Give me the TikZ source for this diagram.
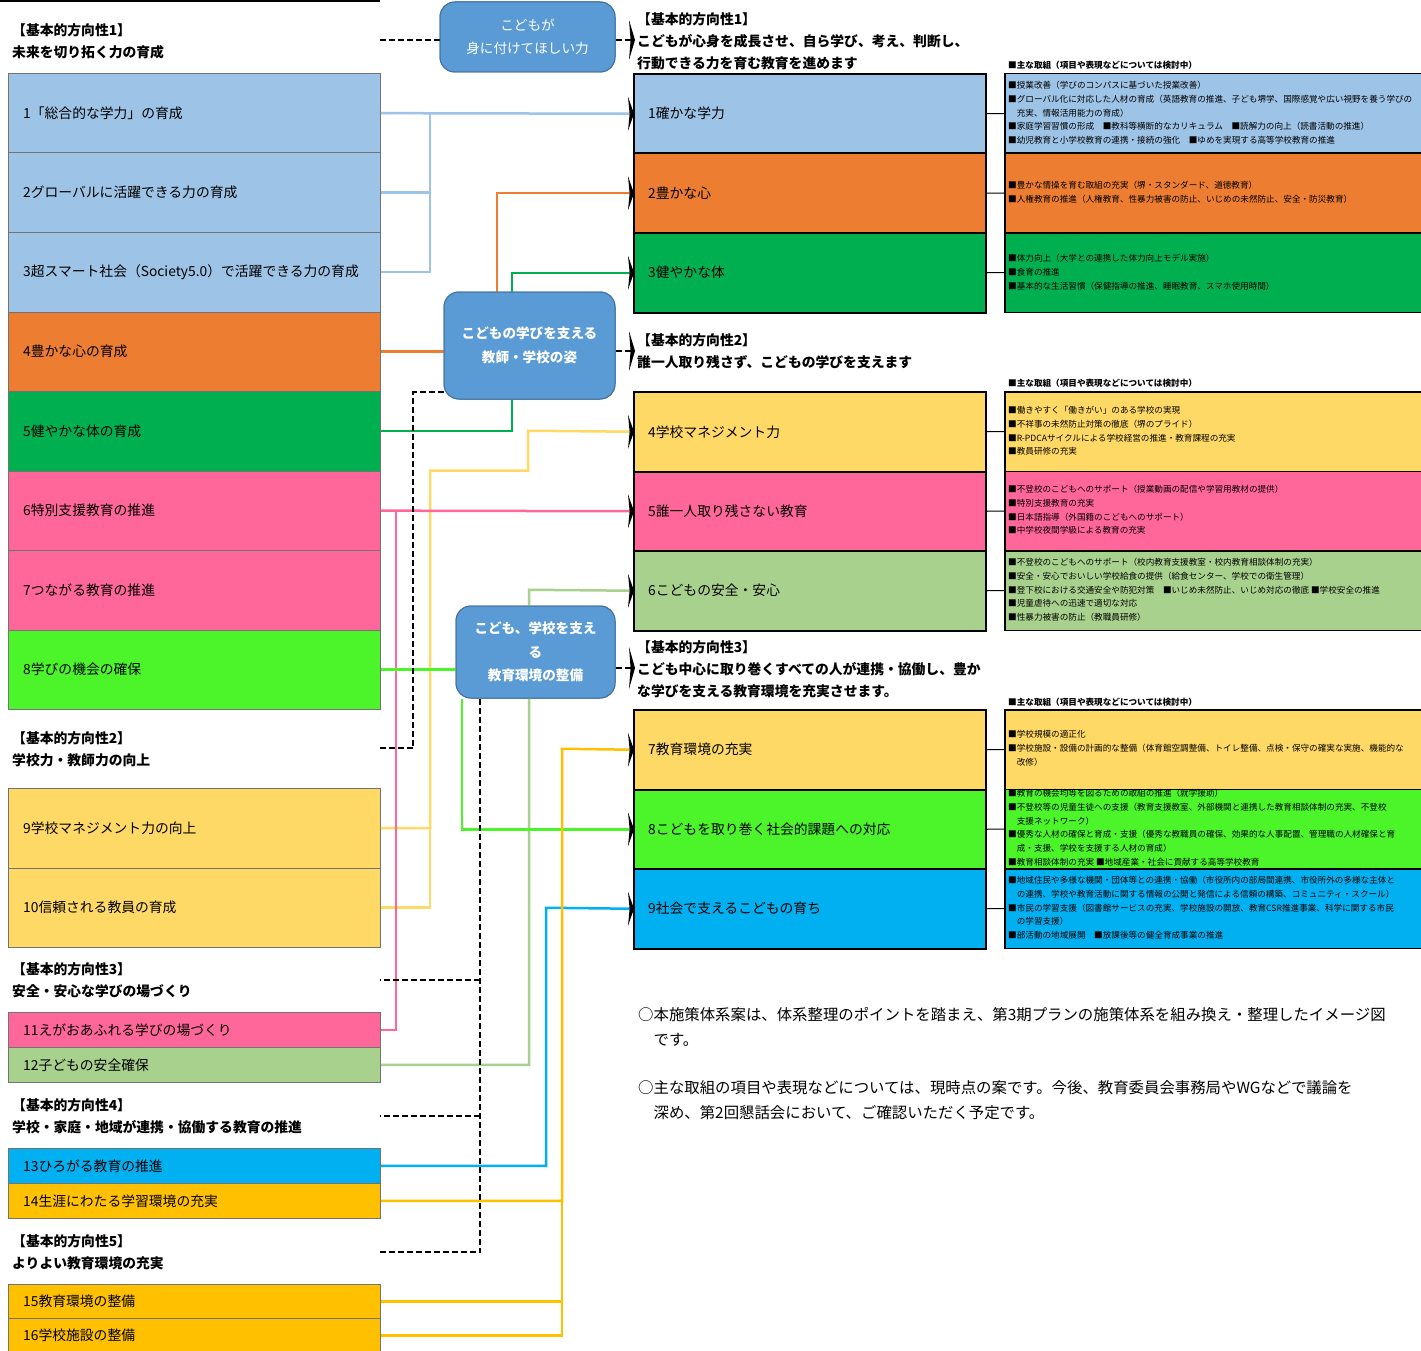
\documentclass[tikz,border=0pt]{standalone}
\usepackage{fontspec}
\setmainfont{Noto Sans CJK JP}
\usetikzlibrary{calc}
\definecolor{clb}{HTML}{9DC3E6}
\definecolor{cor}{HTML}{ED7D31}
\definecolor{cgr}{HTML}{00B050}
\definecolor{cpk}{HTML}{FF6699}
\definecolor{cbg}{HTML}{4BF52A}
\definecolor{cye}{HTML}{FFD966}
\definecolor{clg}{HTML}{A9D18E}
\definecolor{ccy}{HTML}{00B0F0}
\definecolor{cgd}{HTML}{FFC000}
\definecolor{cmb}{HTML}{5B9BD5}
\definecolor{cmbd}{HTML}{41719C}
\newcommand{\amark}[2]{\fill (#1) ++(1,0) -- ++(-6,-#2) -- ++(1.6,#2) -- ++(-1.6,#2) -- cycle;}
\begin{document}
\begin{tikzpicture}[x=1pt,y=-1pt,
  lbox/.style={draw=black!55, line width=0.8pt, minimum width=372pt, minimum height=#1, inner sep=0, anchor=north west},
  rbox/.style={draw=black, line width=2pt, minimum width=352pt, minimum height=79.5pt, inner sep=0, anchor=north west},
  dbox/.style={draw=black, line width=1.5pt, minimum width=430pt, minimum height=79.5pt, inner sep=0, anchor=north west},
  ltext/.style={anchor=west, inner sep=0, font=\fontsize{13.8}{17}\selectfont},
  hdr/.style={anchor=north west, inner sep=0, align=left, font=\bfseries\fontsize{13.8}{22}\selectfont},
  det/.style={anchor=north west, inner sep=0, align=left, font=\fontsize{8.6}{13.8}\selectfont},
  dhead/.style={anchor=west, inner sep=0, font=\bfseries\fontsize{8.6}{10}\selectfont},
  note/.style={anchor=north west, inner sep=0, align=left, font=\fontsize{15.4}{25}\selectfont},
  mbox/.style={draw=cmbd, line width=1pt, fill=cmb, rounded corners=15pt, text=white, align=center, inner sep=0},
  con/.style={line width=2.5pt},
  dsh/.style={line width=1.8pt, dash pattern=on 6pt off 3pt},
  lk/.style={line width=1pt}
]
\useasboundingbox (0,0) rectangle (1421,1351);
\fill[white] (0,0) rectangle (1421,1351);
\draw[line width=2pt] (0,1) -- (380,1);

% ---------- left column ----------
\node[hdr] (H1) at (12,23) {【基本的方向性1】\\未来を切り拓く力の育成};
\node[lbox=79.5pt, fill=clb] (L1) at (8,73) {};
\node[lbox=79.5pt, fill=clb] (L2) at (8,152.5) {};
\node[lbox=79.5pt, fill=clb] (L3) at (8,232) {};
\node[lbox=79.5pt, fill=cor] (L4) at (8,311.5) {};
\node[lbox=79.5pt, fill=cgr] (L5) at (8,391) {};
\node[lbox=79.5pt, fill=cpk] (L6) at (8,470.5) {};
\node[lbox=79.5pt, fill=cpk] (L7) at (8,550) {};
\node[lbox=79.5pt, fill=cbg] (L8) at (8,629.5) {};
\node[hdr] (H2) at (12,731) {【基本的方向性2】\\学校力・教師力の向上};
\node[lbox=79.5pt, fill=cye] (L9) at (8,788) {};
\node[lbox=79.5pt, fill=cye] (L10) at (8,867.5) {};
\node[hdr] (H3) at (12,962) {【基本的方向性3】\\安全・安心な学びの場づくり};
\node[lbox=35pt, fill=cpk] (L11) at (8,1012) {};
\node[lbox=35pt, fill=clg] (L12) at (8,1047) {};
\node[hdr] (H4) at (12,1098) {【基本的方向性4】\\学校・家庭・地域が連携・協働する教育の推進};
\node[lbox=35pt, fill=ccy] (L13) at (8,1148) {};
\node[lbox=35pt, fill=cgd] (L14) at (8,1183) {};
\node[hdr] (H5) at (12,1234) {【基本的方向性5】\\よりよい教育環境の充実};
\node[lbox=34pt, fill=cgd] (L15) at (8,1284) {};
\node[lbox=34pt, fill=cgd] (L16) at (8,1318) {};

\node[ltext] (tL1) at ($(L1.west)+(15,0)$) {1「総合的な学力」の育成};
\node[ltext] (tL2) at ($(L2.west)+(15,0)$) {2グローバルに活躍できる力の育成};
\begin{scope}
\clip (L3.north west) rectangle (L3.south east);
\node[ltext] (tL3) at ($(L3.west)+(15,0)$) {3超スマート社会（Society5.0）で活躍できる力の育成};
\end{scope}
\node[ltext] (tL4) at ($(L4.west)+(15,0)$) {4豊かな心の育成};
\node[ltext] (tL5) at ($(L5.west)+(15,0)$) {5健やかな体の育成};
\node[ltext] (tL6) at ($(L6.west)+(15,0)$) {6特別支援教育の推進};
\node[ltext] (tL7) at ($(L7.west)+(15,0)$) {7つながる教育の推進};
\node[ltext] (tL8) at ($(L8.west)+(15,0)$) {8学びの機会の確保};
\node[ltext] (tL9) at ($(L9.west)+(15,0)$) {9学校マネジメント力の向上};
\node[ltext] (tL10) at ($(L10.west)+(15,0)$) {10信頼される教員の育成};
\node[ltext] (tL11) at ($(L11.west)+(15,0)$) {11えがおあふれる学びの場づくり};
\node[ltext] (tL12) at ($(L12.west)+(15,0)$) {12子どもの安全確保};
\node[ltext] (tL13) at ($(L13.west)+(15,0)$) {13ひろがる教育の推進};
\node[ltext] (tL14) at ($(L14.west)+(15,0)$) {14生涯にわたる学習環境の充実};
\node[ltext] (tL15) at ($(L15.west)+(15,0)$) {15教育環境の整備};
\node[ltext] (tL16) at ($(L16.west)+(15,0)$) {16学校施設の整備};

% ---------- right column ----------
\node[hdr] (G1) at (637,12) {【基本的方向性1】\\こどもが心身を成長させ、自ら学び、考え、判断し、\\行動できる力を育む教育を進めます};
\node[hdr] (G2) at (637,333) {【基本的方向性2】\\誰一人取り残さず、こどもの学びを支えます};
\node[hdr] (G3) at (637,640) {【基本的方向性3】\\こども中心に取り巻くすべての人が連携・協働し、豊か\\な学びを支える教育環境を充実させます。};

\node[rbox, fill=clb] (R1) at (633,73) {};
\node[rbox, fill=cor] (R2) at (633,152.5) {};
\node[rbox, fill=cgr] (R3) at (633,232) {};
\node[rbox, fill=cye] (R4) at (633,391) {};
\node[rbox, fill=cpk] (R5) at (633,470.5) {};
\node[rbox, fill=clg] (R6) at (633,550) {};
\node[rbox, fill=cye] (R7) at (633,709) {};
\node[rbox, fill=cbg] (R8) at (633,788.5) {};
\node[rbox, fill=ccy] (R9) at (633,868) {};

\node[ltext] (tR1) at ($(R1.west)+(15,0)$) {1確かな学力};
\node[ltext] (tR2) at ($(R2.west)+(15,0)$) {2豊かな心};
\node[ltext] (tR3) at ($(R3.west)+(15,0)$) {3健やかな体};
\node[ltext] (tR4) at ($(R4.west)+(15,0)$) {4学校マネジメント力};
\node[ltext] (tR5) at ($(R5.west)+(15,0)$) {5誰一人取り残さない教育};
\node[ltext] (tR6) at ($(R6.west)+(15,0)$) {6こどもの安全・安心};
\node[ltext] (tR7) at ($(R7.west)+(15,0)$) {7教育環境の充実};
\node[ltext] (tR8) at ($(R8.west)+(15,0)$) {8こどもを取り巻く社会的課題への対応};
\node[ltext] (tR9) at ($(R9.west)+(15,0)$) {9社会で支えるこどもの育ち};

% ---------- detail boxes ----------
\node[dhead] (K1) at (1008,65) {■主な取組（項目や表現などについては検討中）};
\node[dhead] (K2) at (1008,383) {■主な取組（項目や表現などについては検討中）};
\node[dhead] (K3) at (1008,702) {■主な取組（項目や表現などについては検討中）};

\node[dbox, fill=clb] (D1) at (1004,73) {};
\node[dbox, fill=cor] (D2) at (1004,152.5) {};
\node[dbox, fill=cgr] (D3) at (1004,232) {};
\node[dbox, fill=cye] (D4) at (1004,391) {};
\node[dbox, fill=cpk] (D5) at (1004,470.5) {};
\node[dbox, fill=clg] (D6) at (1004,550) {};
\node[dbox, fill=cye] (D7) at (1004,709) {};
\node[dbox, fill=cbg] (D8) at (1004,788.5) {};
\node[dbox, fill=ccy] (D9) at (1004,868) {};

\node[det] (tD1) at (1008,81) {■授業改善（学びのコンパスに基づいた授業改善）\\■グローバル化に対応した人材の育成（英語教育の推進、子ども堺学、国際感覚や広い視野を養う学びの\\\hspace*{1em}充実、情報活用能力の育成）\\■家庭学習習慣の形成　■教科等横断的なカリキュラム　■読解力の向上（読書活動の推進）\\■幼児教育と小学校教育の連携・接続の強化　■ゆめを実現する高等学校教育の推進};
\node[det] (tD2) at (1008,181) {■豊かな情操を育む取組の充実（堺・スタンダード、道徳教育）\\■人権教育の推進（人権教育、性暴力被害の防止、いじめの未然防止、安全・防災教育）};
\node[det] (tD3) at (1008,254) {■体力向上（大学との連携した体力向上モデル実施）\\■食育の推進\\■基本的な生活習慣（保健指導の推進、睡眠教育、スマホ使用時間）};
\node[det] (tD4) at (1008,406) {■働きやすく「働きがい」のある学校の実現\\■不祥事の未然防止対策の徹底（堺のプライド）\\■R-PDCAサイクルによる学校経営の推進・教育課程の充実\\■教員研修の充実};
\node[det] (tD5) at (1008,485) {■不登校のこどもへのサポート（授業動画の配信や学習用教材の提供）\\■特別支援教育の充実\\■日本語指導（外国籍のこどもへのサポート）\\■中学校夜間学級による教育の充実};
\node[det] (tD6) at (1008,558) {■不登校のこどもへのサポート（校内教育支援教室・校内教育相談体制の充実）\\■安全・安心でおいしい学校給食の提供（給食センター、学校での衛生管理）\\■登下校における交通安全や防犯対策　■いじめ未然防止、いじめ対応の徹底 ■学校安全の推進\\■児童虐待への迅速で適切な対応\\■性暴力被害の防止（教職員研修）};
\node[det] (tD7) at (1008,730) {■学校規模の適正化\\■学校施設・設備の計画的な整備（体育館空調整備、トイレ整備、点検・保守の確実な実施、機能的な\\\hspace*{1em}改修）};
\node[det] (tD8) at (1008,789) {■教育の機会均等を図るための取組の推進（就学援助）\\■不登校等の児童生徒への支援（教育支援教室、外部機関と連携した教育相談体制の充実、不登校\\\hspace*{1em}支援ネットワーク）\\■優秀な人材の確保と育成・支援（優秀な教職員の確保、効果的な人事配置、管理職の人材確保と育\\\hspace*{1em}成・支援、学校を支援する人材の育成）\\■教育相談体制の充実 ■地域産業・社会に貢献する高等学校教育};
\node[det] (tD9) at (1008,876) {■地域住民や多様な機関・団体等との連携・協働（市役所内の部局間連携、市役所外の多様な主体と\\\hspace*{1em}の連携、学校や教育活動に関する情報の公開と発信による信頼の構築、コミュニティ・スクール）\\■市民の学習支援（図書館サービスの充実、学校施設の開放、教育CSR推進事業、科学に関する市民\\\hspace*{1em}の学習支援）\\■部活動の地域展開　■放課後等の健全育成事業の推進};

\foreach \i in {1,...,9} {\draw[lk] (R\i.east) -- (D\i.west);}

% ---------- notes ----------
\node[note] (N1) at (638,1007) {○本施策体系案は、体系整理のポイントを踏まえ、第3期プランの施策体系を組み換え・整理したイメージ図\\\hspace*{1em}です。};
\node[note] (N2) at (638,1080) {○主な取組の項目や表現などについては、現時点の案です。今後、教育委員会事務局やWGなどで議論を\\\hspace*{1em}深め、第2回懇話会において、ご確認いただく予定です。};

% ---------- coordinates ----------
\coordinate (jb) at (430,112.75);
\coordinate (o1) at (497,0);
\coordinate (g1) at (512,0);
\coordinate (y1) at (430,470.5);
\coordinate (y2) at (528,430.75);
\coordinate (p1) at (396,510.25);
\coordinate (lg1) at (529,589.75);
\coordinate (bg1) at (462,0);
\coordinate (cy1) at (546,907.75);
\coordinate (gd1) at (562,748.75);
\coordinate (h1) at (380,40);
\coordinate (m1) at (634,40);
\coordinate (m2) at (634,351);
\coordinate (m3) at (634,668);
\coordinate (b2) at (0,392);
\coordinate (d2) at (413,748);
\coordinate (h2) at (380,748);
\coordinate (c3) at (480,980);
\coordinate (h3) at (380,980);
\coordinate (c4) at (480,1116);
\coordinate (h4) at (380,1116);
\coordinate (c5) at (480,1252);
\coordinate (h5) at (380,1252);

% ---------- middle boxes (for anchors) ----------
\path (527.5,37) node[mbox, minimum width=175pt, minimum height=70pt, font=\fontsize{13.6}{23}\selectfont] (A) {こどもが\\身に付けてほしい力};
\path (529.5,345.5) node[mbox, minimum width=171pt, minimum height=107pt, font=\bfseries\fontsize{13.6}{24}\selectfont] (B) {こどもの学びを支える\\教師・学校の姿};
\path (535.5,652) node[mbox, minimum width=159pt, minimum height=92pt, font=\bfseries\fontsize{13.6}{23.5}\selectfont] (C) {こども、学校を支え\\る\\教育環境の整備};

% ---------- colored connectors ----------
\draw[con, clb] (L1.east) -- (R1.west);
\draw[con, clb] (L2.east) -| (jb);
\draw[con, clb] (L3.east) -| (jb);
\draw[con, cor] (L4.east) -- (L4.east -| B.west);
\draw[con, cor] (B.north -| o1) |- (R2.west);
\draw[con, cgr] (L5.east) -| (B.south -| g1);
\draw[con, cgr] (B.north -| g1) |- (R3.west);
\draw[con, cye] (L9.east) -| (y1) -| (y2) -- (R4.west);
\draw[con, cye] (L10.east) -| (y1);
\draw[con, cpk] (L6.east) -- (R5.west);
\draw[con, cpk] (L11.east) -| (p1);
\draw[con, clg] (L12.east) -| (lg1) -- (R6.west);
\draw[con, cbg] (L8.east) -- (L8.east -| C.west);
\draw[con, cbg] (C.south -| bg1) |- (R8.west);
\draw[con, ccy] (L13.east) -| (cy1) -- (R9.west);
\draw[con, cgd] (L14.east) -| (gd1) -- (R7.west);
\draw[con, cgd] (L15.east) -| (gd1);
\draw[con, cgd] (L16.east) -| (gd1);

% ---------- dashed connectors ----------
\draw[dsh] (h1) -- (h1 -| A.west);
\draw[dsh] (A.east |- m1) -- (m1);
\draw[dsh] (B.east |- m2) -- (m2);
\draw[dsh] (B.west |- b2) -| (d2) -- (h2);
\draw[dsh] (C.east |- m3) -- (m3);
\draw[dsh] (C.south -| c5) -- (c5) -- (h5);
\draw[dsh] (c3) -- (h3);
\draw[dsh] (c4) -- (h4);

% ---------- middle boxes drawn on top ----------
\node[mbox, minimum width=175pt, minimum height=70pt, font=\fontsize{13.6}{23}\selectfont] (A2) at (A) {こどもが\\身に付けてほしい力};
\node[mbox, minimum width=171pt, minimum height=107pt, font=\bfseries\fontsize{13.6}{24}\selectfont] (B2) at (B) {こどもの学びを支える\\教師・学校の姿};
\node[mbox, minimum width=159pt, minimum height=92pt, font=\bfseries\fontsize{13.6}{23.5}\selectfont] (C2) at (C) {こども、学校を支え\\る\\教育環境の整備};

% ---------- arrow marks ----------
\amark{m1}{20}
\amark{m2}{20}
\amark{m3}{21}
\foreach \i in {1,...,9} {\amark{R\i.west}{17}}
\end{tikzpicture}
\end{document}
